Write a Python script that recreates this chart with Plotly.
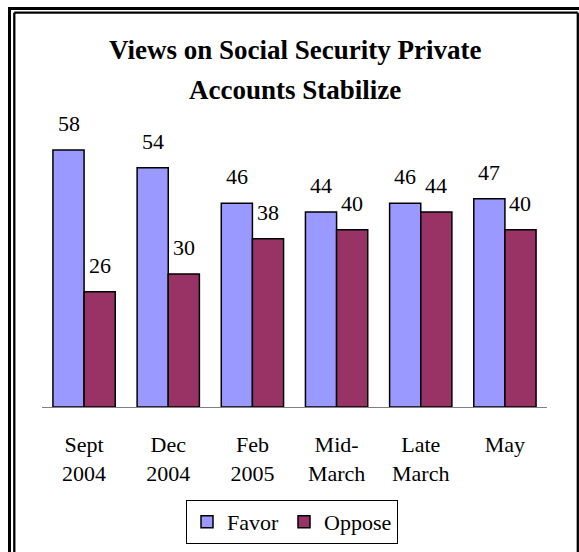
import plotly.graph_objects as go

categories = ["Sept<br>2004", "Dec<br>2004", "Feb<br>2005", "Mid-<br>March", "Late<br>March", "May"]
favor = [58, 54, 46, 44, 46, 47]
oppose = [26, 30, 38, 40, 44, 40]
series_names = ["Favor", "Oppose"]
title_lines = ["<b>Views on Social Security Private</b>", "<b>Accounts Stabilize</b>"]

W, H = 579, 552
ML, MR, MT, MB = 42, 32, 100, 145
PW = W - ML - MR
PH = H - MT - MB
BARGAP = 0.26
YMAX = 69.3
FONT = "Liberation Serif, Times New Roman, serif"


def px_x(p):
    return (p - ML) / PW


def px_y(p):
    return (H - MB - p) / PH


fig = go.Figure()
fig.add_trace(go.Bar(x=categories, y=favor, name=series_names[0],
                     marker=dict(color="#9999FF", line=dict(color="black", width=1.5))))
fig.add_trace(go.Bar(x=categories, y=oppose, name=series_names[1],
                     marker=dict(color="#993366", line=dict(color="black", width=1.5))))

bar_px = PW / len(categories) * (1 - BARGAP) / 2
annotations = []
for vals, sh in ((favor, -bar_px / 2), (oppose, bar_px / 2)):
    for c, v in zip(categories, vals):
        annotations.append(dict(x=c, y=v, text=str(v), showarrow=False, xref="x", yref="y",
                                xshift=sh, yshift=12, yanchor="bottom",
                                font=dict(family=FONT, size=22, color="black")))

for i, line in enumerate(title_lines):
    annotations.append(dict(x=(295 - ML) / PW, y=px_y(33 + 40 * i), xref="paper", yref="paper",
                            text=line, showarrow=False, yanchor="top", xanchor="center",
                            font=dict(family=FONT, size=27, color="black")))


def seg(x0, y0, x1, y1, w):
    return dict(type="line", xref="paper", yref="paper", x0=px_x(x0), x1=px_x(x1),
                y0=px_y(y0), y1=px_y(y1), line=dict(color="black", width=w), layer="above")


shapes = [
    seg(9.5, 8.5, 9.5, 552, 3),       # outer left
    seg(8, 8.5, 579, 8.5, 3),         # outer top
    seg(14.3, 12.7, 14.3, 552, 2.3),  # inner left
    seg(14.3, 12.7, 577.8, 12.7, 2.3),  # inner top
    seg(577.8, 12.7, 577.8, 552, 2.3),  # inner right
]

fig.update_layout(
    width=W, height=H,
    margin=dict(l=ML, r=MR, t=MT, b=MB, autoexpand=False),
    paper_bgcolor="white", plot_bgcolor="white",
    barmode="group", bargap=BARGAP, bargroupgap=0,
    font=dict(family=FONT, size=22, color="black"),
    showlegend=True,
    legend=dict(orientation="h", x=(292 - ML) / PW, xanchor="center", y=px_y(500), yanchor="top",
                bordercolor="black", borderwidth=1, font=dict(family=FONT, size=22, color="black"),
                itemwidth=30, traceorder="normal"),
    annotations=annotations,
    shapes=shapes,
)
fig.update_xaxes(showline=True, linecolor="#808080", linewidth=1, ticks="outside", ticklen=18,
                 tickcolor="rgba(0,0,0,0)", tickfont=dict(family=FONT, size=22, color="black"),
                 showgrid=False, zeroline=False, automargin=False)
fig.update_yaxes(visible=False, range=[0, YMAX], showgrid=False, zeroline=False, automargin=False)

post = (
    "document.body.style.margin='0';"
    "document.body.style.overflow='hidden';"
)
fig.write_html("out.html", config={"displayModeBar": False}, post_script=post)
